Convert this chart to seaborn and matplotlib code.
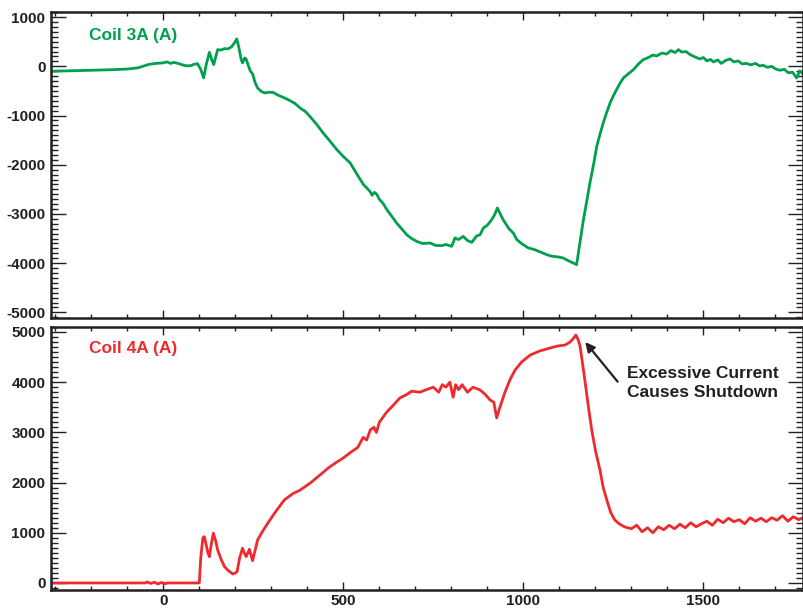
import numpy as np
import pandas as pd
import matplotlib
matplotlib.use("Agg")
import matplotlib.pyplot as plt
from matplotlib.ticker import MultipleLocator
import seaborn as sns

# ---- data ----
t_coil3 = [-312, -250, -200, -150, -100, -70, -40, -20, 0, 10, 20, 30, 45, 60, 75, 85, 95, 104, 112,
           120, 128, 134, 140, 146, 151, 160, 170, 180, 190, 198, 204, 210, 216, 220, 226, 230, 236,
           242, 248, 255, 262, 272, 282, 294, 305, 320, 336, 350, 365, 380, 395, 407, 425, 444, 463,
           482, 500, 519, 537, 556, 565, 574, 580, 586, 593, 600, 610, 621, 635, 648, 662, 676, 690,
           704, 720, 741, 757, 773, 785, 801, 806, 810, 820, 833, 845, 857, 870, 880, 889, 900, 912,
           920, 928, 936, 944, 960, 972, 982, 995, 1014, 1030, 1050, 1065, 1080, 1095, 1111, 1125,
           1140, 1148, 1157, 1167, 1176, 1185, 1195, 1204, 1213, 1222, 1231, 1241, 1250, 1259, 1268,
           1278, 1292, 1306, 1320, 1333, 1345, 1360, 1370, 1385, 1398, 1410, 1422, 1431, 1440, 1452,
           1463, 1477, 1491, 1500, 1510, 1520, 1528, 1540, 1550, 1562, 1574, 1585, 1597, 1608, 1620,
           1632, 1645, 1656, 1667, 1678, 1690, 1700, 1713, 1725, 1736, 1748, 1759, 1768, 1777]
coil3 = [-100, -90, -80, -70, -55, -30, 40, 60, 70, 90, 60, 80, 50, 15, 10, 40, 55, -60, -235,
         60, 285, 150, 35, 200, 340, 330, 360, 355, 400, 480, 557, 380, 150, 70, 170, 150, 20,
         -100, -150, -330, -440, -510, -540, -525, -530, -590, -640, -690, -750, -846, -920, -1016,
         -1170, -1354, -1520, -1693, -1830, -1963, -2180, -2404, -2470, -2540, -2620, -2560, -2600,
         -2700, -2780, -2913, -3050, -3183, -3300, -3421, -3500, -3557, -3600, -3590, -3640, -3644,
         -3620, -3658, -3560, -3488, -3520, -3455, -3540, -3577, -3450, -3421, -3285, -3230, -3116,
         -3020, -2878, -3000, -3116, -3300, -3386, -3522, -3600, -3691, -3720, -3780, -3827, -3860,
         -3870, -3895, -3950, -4000, -4031, -3600, -3116, -2750, -2370, -2000, -1626, -1380, -1150,
         -950, -744, -600, -474, -350, -236, -150, -67, 50, 136, 170, 230, 210, 270, 250, 320, 280,
         340, 290, 300, 240, 190, 150, 180, 110, 140, 90, 130, 60, 120, 150, 90, 110, 50, 60,
         30, 60, 10, 20, -20, 0, -50, -80, -60, -130, -120, -236, -90, -160]

t_coil4 = [-312, -50, -45, -35, -25, -15, -5, 5, 12, 100, 104, 110, 114, 119, 124, 128, 134, 139,
           145, 151, 160, 170, 180, 193, 200, 205, 212, 220, 225, 230, 235, 239, 244, 248, 255, 262,
           275, 290, 310, 336, 360, 380, 410, 435, 460, 480, 500, 520, 540, 555, 565, 575, 585, 592,
           600, 620, 640, 657, 675, 690, 713, 730, 750, 765, 775, 785, 796, 805, 812, 820, 830, 845,
           860, 880, 895, 907, 918, 926, 935, 949, 963, 977, 995, 1019, 1045, 1074, 1095, 1116, 1130,
           1140, 1146, 1152, 1157, 1164, 1171, 1180, 1190, 1200, 1213, 1222, 1232, 1243, 1254, 1268,
           1282, 1300, 1315, 1330, 1345, 1360, 1375, 1390, 1405, 1420, 1435, 1450, 1465, 1480, 1495,
           1510, 1525, 1540, 1555, 1570, 1585, 1600, 1615, 1630, 1645, 1660, 1675, 1690, 1705, 1720,
           1735, 1750, 1765, 1777]
coil4 = [0, 0, 20, -10, 15, -20, 10, -15, 0, 0, 500, 900, 922, 757, 600, 524, 800, 990,
         850, 657, 480, 325, 250, 179, 200, 225, 500, 691, 600, 524, 600, 671, 550, 444, 650, 857,
         1020, 1189, 1400, 1653, 1780, 1850, 2000, 2150, 2300, 2400, 2490, 2600, 2700, 2900, 2850,
         3050, 3100, 3000, 3200, 3400, 3550, 3685, 3750, 3820, 3800, 3850, 3900, 3800, 3950, 3900,
         4000, 3700, 3950, 3850, 3950, 3800, 3900, 3845, 3750, 3650, 3600, 3290, 3500, 3800, 4050,
         4240, 4400, 4540, 4620, 4680, 4720, 4740, 4800, 4880, 4940, 4850, 4740, 4400, 4040, 3550,
         3050, 2650, 2250, 1900, 1650, 1400, 1255, 1170, 1115, 1080, 1150, 1020, 1100, 1000, 1120,
         1060, 1150, 1080, 1170, 1100, 1200, 1120, 1180, 1230, 1150, 1270, 1200, 1290, 1220, 1260,
         1180, 1300, 1230, 1290, 1220, 1300, 1250, 1340, 1230, 1320, 1260, 1300]

labels = ["Coil 3A (A)", "Coil 4A (A)"]
annotation_text = "Excessive Current\nCauses Shutdown"

GREEN = "#00A04E"
RED = "#EE2A2E"
DARK = "#231F20"

sns.set_style("ticks")
plt.rcParams["font.family"] = ["Liberation Sans", "DejaVu Sans"]
plt.rcParams["font.weight"] = "bold"
plt.rcParams["axes.unicode_minus"] = False

fig = plt.figure(figsize=(8.04, 6.10), dpi=100)
ax1 = fig.add_axes([0.0634, 0.4782, 0.9354, 0.5026])
ax2 = fig.add_axes([0.0634, 0.0328, 0.9354, 0.4316], sharex=ax1)

df3 = pd.DataFrame({"t": t_coil3, "v": coil3})
df4 = pd.DataFrame({"t": t_coil4, "v": coil4})
sns.lineplot(data=df3, x="t", y="v", ax=ax1, color=GREEN, lw=2.0, sort=False, estimator=None)
sns.lineplot(data=df4, x="t", y="v", ax=ax2, color=RED, lw=2.0, sort=False, estimator=None)

ax1.set_xlim(-312, 1777)
ax1.set_ylim(-5120, 1110)
ax2.set_ylim(-140, 5105)

for ax in (ax1, ax2):
    ax.set_xlabel("")
    ax.set_ylabel("")
    ax.xaxis.set_major_locator(MultipleLocator(500))
    ax.xaxis.set_minor_locator(MultipleLocator(100))
    ax.yaxis.set_major_locator(MultipleLocator(1000))
    ax.yaxis.set_minor_locator(MultipleLocator(100))
    for s in ax.spines.values():
        s.set_visible(True)
        s.set_linewidth(1.8)
        s.set_color(DARK)
    ax.tick_params(axis="both", which="both", direction="in", top=True, right=True,
                   colors=DARK, width=1.0)
    ax.tick_params(axis="y", which="major", length=11, labelsize=11, pad=4)
    ax.tick_params(axis="y", which="minor", length=5)
    ax.tick_params(axis="x", which="major", length=5.5, labelsize=11, pad=3)
    ax.tick_params(axis="x", which="minor", length=2.8)
    for lab in ax.get_xticklabels() + ax.get_yticklabels():
        lab.set_fontweight("bold")

ax1.tick_params(axis="x", labelbottom=False)

ax1.text(0.0505, 0.922, labels[0], transform=ax1.transAxes, color=GREEN,
         fontsize=12.5, fontweight="bold", ha="left", va="center")
ax2.text(0.0505, 0.918, labels[1], transform=ax2.transAxes, color=RED,
         fontsize=12.5, fontweight="bold", ha="left", va="center")

ax2.text(1288, 3985, annotation_text, fontsize=12.5, fontweight="bold", color=DARK,
         ha="left", va="center", linespacing=1.35)
ax2.annotate("", xy=(1172, 4800), xytext=(1262, 4010), textcoords="data",
             arrowprops=dict(arrowstyle="-|>", color=DARK, lw=1.6,
                             shrinkA=0, shrinkB=0, mutation_scale=14))

fig.savefig("out.png", dpi=100)
